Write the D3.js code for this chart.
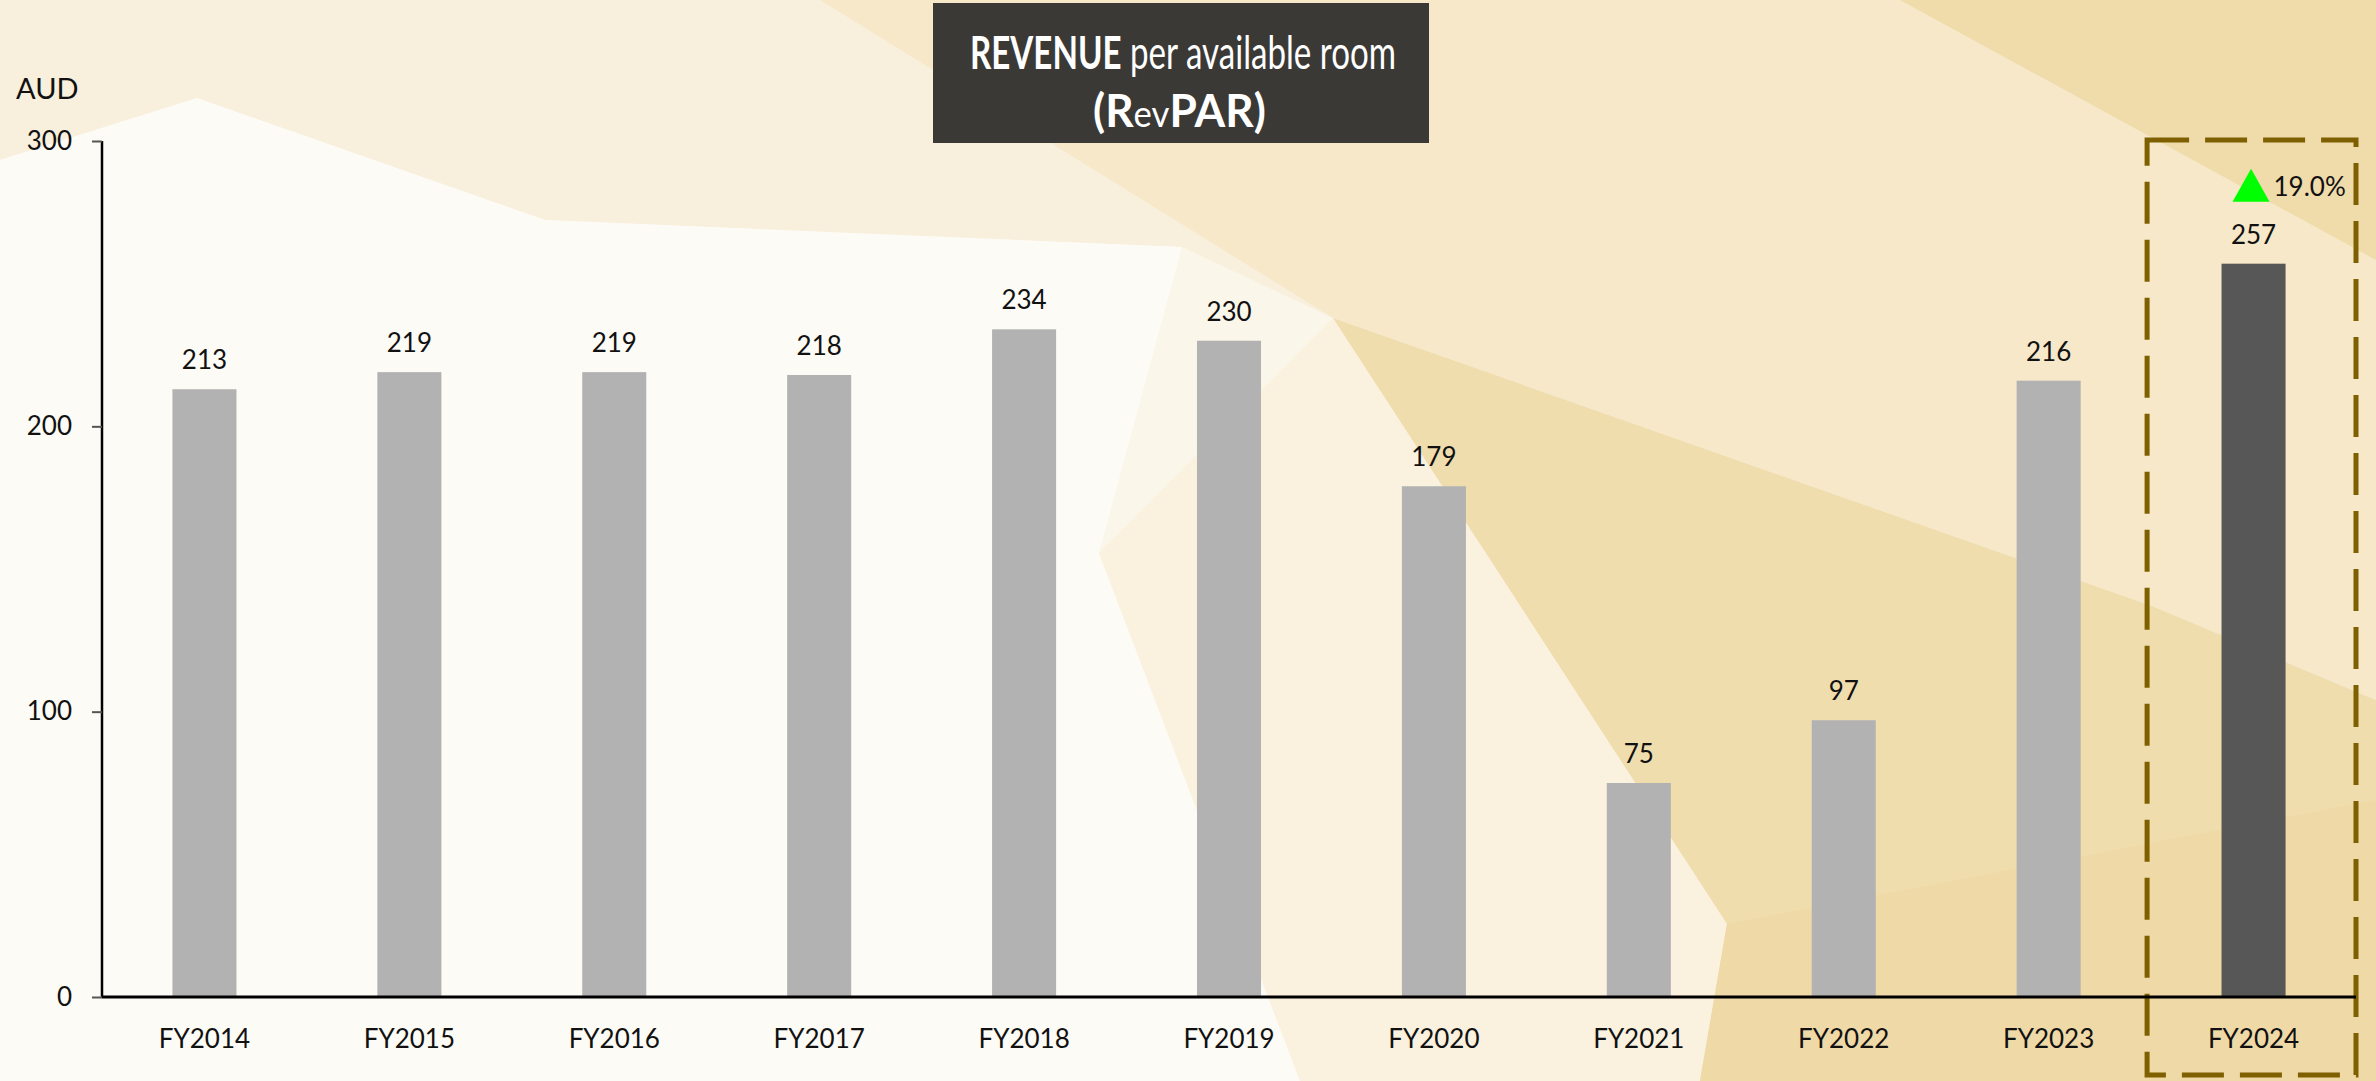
<!DOCTYPE html>
<html>
<head>
<meta charset="utf-8">
<script src="https://cdn.jsdelivr.net/npm/d3@7"></script>
<style>
  html, body { margin: 0; padding: 0; background: #fbf6ea; }
  svg { display: block; font-family: Lato, "Open Sans", sans-serif; }
</style>
</head>
<body>
<svg id="chart" width="2376" height="1081"></svg>
<script>
// Datos del grafico
const categorias = ['FY2014', 'FY2015', 'FY2016', 'FY2017', 'FY2018', 'FY2019', 'FY2020', 'FY2021', 'FY2022', 'FY2023', 'FY2024'];
const revpar = [213, 219, 219, 218, 234, 230, 179, 75, 97, 216, 257];
const ticksY = [0, 100, 200, 300];
const destacado = 'FY2024';
const variacion = '19.0%';

const width = 2376;
const height = 1081;
const margin = { top: 141, right: 20, bottom: 84, left: 102 };

const svg = d3.select('#chart');

// Fondo facetado (decorativo)
const fondo = [
  { pts: [[0,0],[820,0],[1333,318],[1182,247],[545,220],[197,98],[0,160]], fill: '#f8efdc' },
  { pts: [[0,160],[197,98],[545,220],[1182,247],[1099,553],[1300,1081],[0,1081]], fill: '#fdfbf6' },
  { pts: [[1099,553],[1333,318],[1727,924],[1700,1081],[1300,1081]], fill: '#faf1df' },
  { pts: [[820,0],[2376,0],[2376,700],[2152,606],[1333,318]], fill: '#f6e8c9' },
  { pts: [[1333,318],[2152,606],[2376,700],[2376,1081],[1700,1081],[1727,924]], fill: '#f0ddae' },
  { pts: [[1900,0],[2376,0],[2376,260]], fill: '#f0dbaa' },
  { pts: [[1727,924],[2376,800],[2376,1081],[1700,1081]], fill: '#efd9a6' }
];
svg.append('g')
  .selectAll('polygon')
  .data(fondo)
  .join('polygon')
  .attr('points', d => d.pts.map(p => p.join(',')).join(' '))
  .attr('fill', d => d.fill);

const x = d3.scaleBand()
  .domain(categorias)
  .range([margin.left, width - margin.right])
  .paddingInner(0.6875)
  .paddingOuter(0.34375);

const y = d3.scaleLinear()
  .domain([0, 300])
  .range([height - margin.bottom, margin.top]);

// Caja punteada del ultimo año
const xEnd = width - margin.right;
svg.append('rect')
  .attr('x', xEnd - x.step() - 4)
  .attr('y', y(300) - 1)
  .attr('width', x.step() + 4)
  .attr('height', 1075 - (y(300) - 1))
  .attr('fill', 'none')
  .attr('stroke', '#7f6000')
  .attr('stroke-width', 5)
  .attr('stroke-dasharray', '42,16');

// Barras
svg.append('g')
  .selectAll('rect')
  .data(categorias)
  .join('rect')
  .attr('x', d => x(d))
  .attr('y', (d, i) => y(revpar[i]))
  .attr('width', x.bandwidth())
  .attr('height', (d, i) => y(0) - y(revpar[i]))
  .attr('fill', d => d === destacado ? '#575757' : '#b2b2b2');

// Etiquetas de valor
svg.append('g')
  .selectAll('text')
  .data(categorias)
  .join('text')
  .attr('x', d => x(d) + x.bandwidth() / 2)
  .attr('y', (d, i) => y(revpar[i]) - 20)
  .attr('text-anchor', 'middle')
  .attr('font-size', 26)
  .attr('fill', '#111')
  .text((d, i) => revpar[i]);

// Ejes
const yAxis = g => g
  .attr('transform', `translate(${margin.left},0)`)
  .call(d3.axisLeft(y).tickValues(ticksY).tickSize(10).tickPadding(20))
  .call(g => g.select('.domain').attr('stroke', '#000').attr('stroke-width', 2.5).attr('d', `M0,${y(300)}V${y(0)}`))
  .call(g => g.selectAll('.tick line').attr('stroke', '#555').attr('stroke-width', 2))
  .call(g => g.selectAll('.tick text').attr('font-size', 26).attr('fill', '#111').attr('font-family', 'Lato'));

const xAxis = g => g
  .attr('transform', `translate(0,${y(0)})`)
  .call(d3.axisBottom(x).tickSize(0).tickPadding(33))
  .call(g => g.select('.domain').attr('stroke', '#000').attr('stroke-width', 3).attr('d', `M${margin.left},0H${xEnd}`))
  .call(g => g.selectAll('.tick text').attr('font-size', 26).attr('fill', '#111').attr('font-family', 'Lato'));

svg.append('g').call(yAxis);
svg.append('g').call(xAxis);

// Unidad
svg.append('text')
  .attr('x', 16)
  .attr('y', 99)
  .attr('font-size', 29)
  .attr('fill', '#111')
  .text('AUD');

// Titulo
svg.append('rect')
  .attr('x', 933).attr('y', 3)
  .attr('width', 496).attr('height', 140)
  .attr('fill', '#3b3936');

// texto comprimido horizontalmente para parecer una fuente estrecha
function textoEstrecho(x0, y0, ancho, size, partes) {
  const g = svg.append('g');
  const t = g.append('text')
    .attr('x', 0).attr('y', 0)
    .attr('font-size', size)
    .attr('fill', '#fff');
  partes.forEach(p => {
    t.append('tspan')
      .attr('font-weight', p.bold ? 700 : 400)
      .attr('font-size', p.size || size)
      .text(p.txt);
  });
  const len = t.node().getComputedTextLength();
  g.attr('transform', `translate(${x0},${y0}) scale(${ancho / len},1)`);
}

textoEstrecho(970, 69, 426, 46, [
  { txt: 'REVENUE', bold: true },
  { txt: ' per available room' }
]);
textoEstrecho(1093, 127, 173, 46, [
  { txt: '(R', bold: true },
  { txt: 'ev', size: 36 },
  { txt: 'PAR)', bold: true }
]);

// Variacion anual
const cx = x(destacado) + x.bandwidth() / 2;
const topBar = y(revpar[categorias.indexOf(destacado)]);
svg.append('path')
  .attr('d', `M${cx - 21},${topBar - 62}L${cx + 16},${topBar - 62}L${cx - 2.5},${topBar - 95}Z`)
  .attr('fill', '#00ff00');
svg.append('text')
  .attr('x', cx + 20)
  .attr('y', topBar - 68)
  .attr('font-size', 26)
  .attr('fill', '#111')
  .text(variacion);
</script>
</body>
</html>
